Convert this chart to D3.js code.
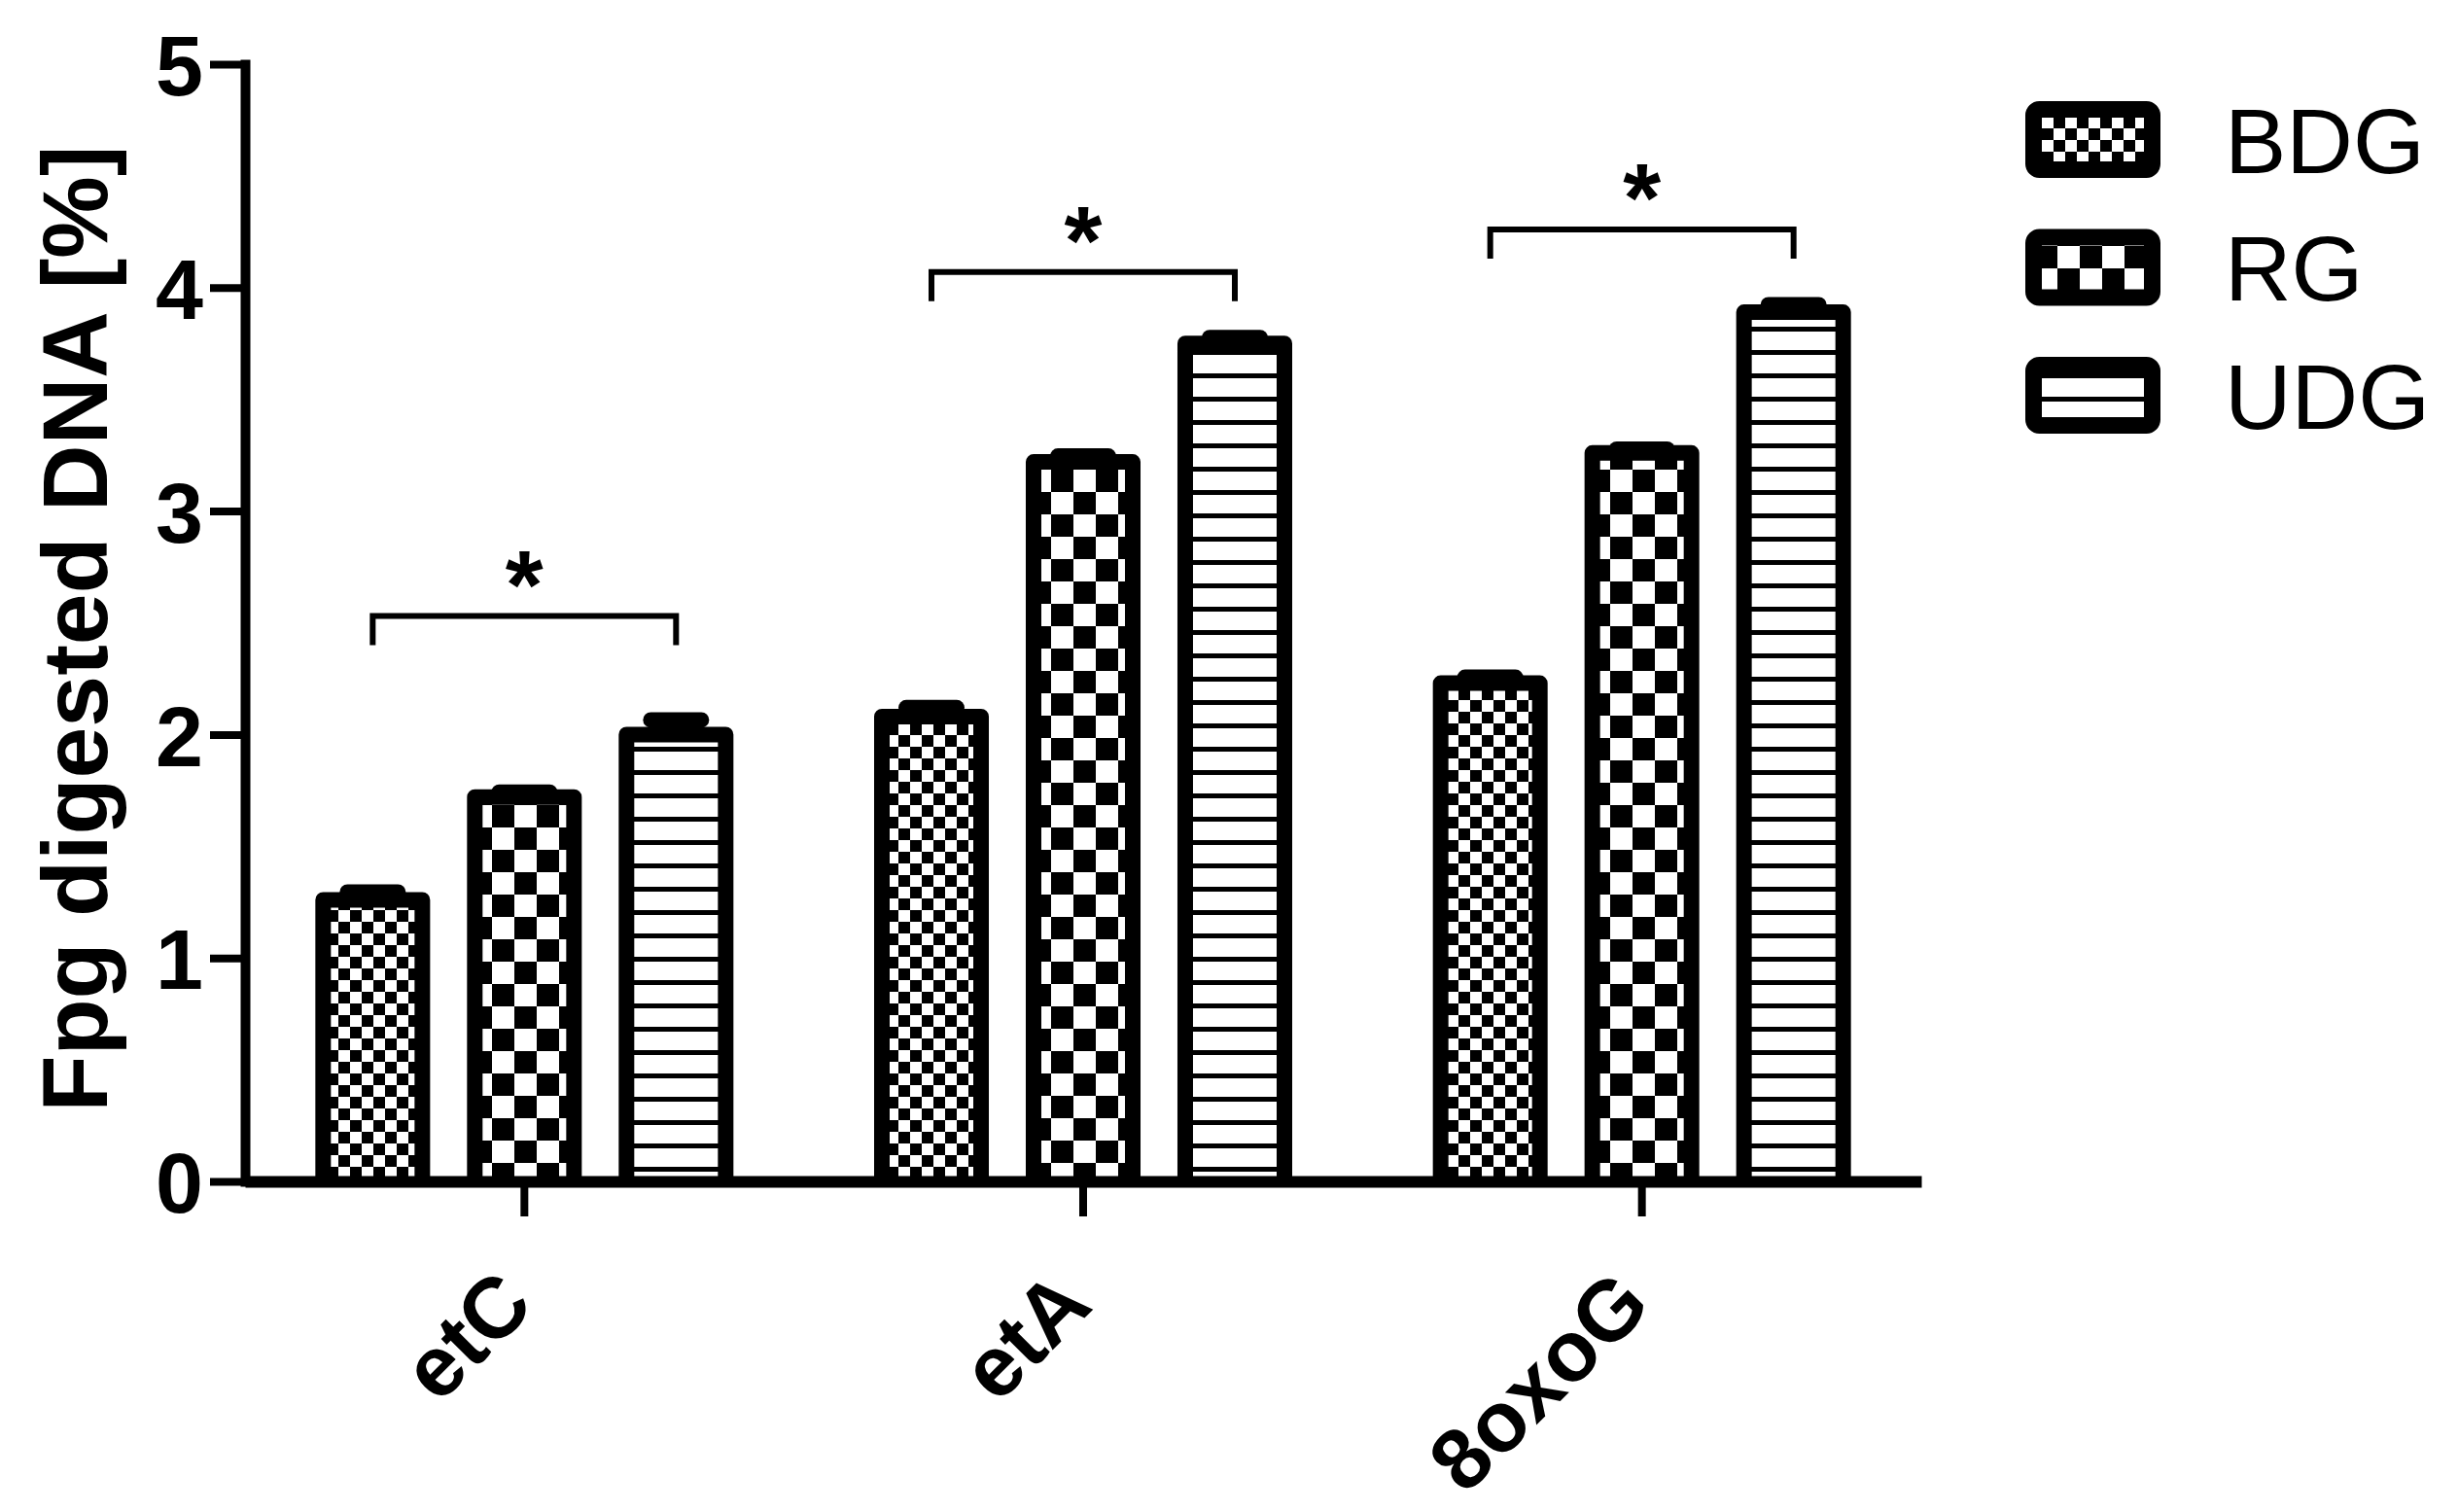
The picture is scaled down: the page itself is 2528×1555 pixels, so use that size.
<!DOCTYPE html>
<html>
<head>
<meta charset="utf-8">
<script src="https://cdn.jsdelivr.net/npm/d3@7/dist/d3.min.js"></script>
<style>
  html, body { margin: 0; padding: 0; background: #fff; }
  svg { display: block; }
  text { font-family: Arial, "Liberation Sans", sans-serif; fill: #000; }
</style>
</head>
<body>
<svg id="chart" width="2528" height="1555"></svg>
<script>
(function () {
  'use strict';

  // categories on the x axis, one series per treatment
  const CATEGORIES = ['etC', 'etA', '8oxoG'];
  const SERIES = ['BDG', 'RG', 'UDG'];

  const BDG_VALUES = [1.26, 2.08, 2.23];
  const RG_VALUES = [1.72, 3.22, 3.26];
  const UDG_VALUES = [2.00, 3.75, 3.89];

  // SEM, read from the cap heights
  const BDG_ERRORS = [0.035, 0.04, 0.026];
  const RG_ERRORS = [0.022, 0.026, 0.017];
  const UDG_ERRORS = [0.065, 0.026, 0.033];

  const Y_TICKS = [0, 1, 2, 3, 4, 5];

  // significance brackets: BDG vs UDG in each category
  const BRACKET_LEVELS = [2.53, 4.07, 4.26];
  const BRACKET_LABELS = ['*', '*', '*'];

  const Y_TITLE = 'Fpg digested DNA [%]';

  const values = [BDG_VALUES, RG_VALUES, UDG_VALUES];
  const errors = [BDG_ERRORS, RG_ERRORS, UDG_ERRORS];
  const patternIds = ['pat-bdg', 'pat-rg', 'pat-udg'];

  const svg = d3.select('#chart');
  svg.append('rect').attr('width', 2528).attr('height', 1555).attr('fill', '#fff');

  const x = d3.scaleBand().domain(CATEGORIES).range([252, 1976]).padding(0);
  const xs = d3.scaleBand().domain(SERIES).range([0, x.bandwidth()])
    .paddingInner(0.346).paddingOuter(0.515);
  const y = d3.scaleLinear().domain([0, 5]).range([1215, 66]);

  buildPatterns();
  drawBars();
  drawAxes();
  drawErrors();
  drawBrackets();
  drawLegend();

  function buildPatterns() {
    const defs = svg.append('defs');

    const bdg = defs.append('pattern').attr('id', 'pat-bdg')
      .attr('patternUnits', 'userSpaceOnUse').attr('width', 24).attr('height', 24);
    bdg.append('rect').attr('width', 24).attr('height', 24).attr('fill', '#fff');
    bdg.append('rect').attr('width', 12).attr('height', 12).attr('fill', '#000');
    bdg.append('rect').attr('x', 12).attr('y', 12).attr('width', 12).attr('height', 12).attr('fill', '#000');

    const rg = defs.append('pattern').attr('id', 'pat-rg')
      .attr('patternUnits', 'userSpaceOnUse').attr('width', 46).attr('height', 46);
    rg.append('rect').attr('width', 46).attr('height', 46).attr('fill', '#fff');
    rg.append('rect').attr('width', 23).attr('height', 23).attr('fill', '#000');
    rg.append('rect').attr('x', 23).attr('y', 23).attr('width', 23).attr('height', 23).attr('fill', '#000');

    const udg = defs.append('pattern').attr('id', 'pat-udg')
      .attr('patternUnits', 'userSpaceOnUse').attr('width', 24).attr('height', 24);
    udg.append('rect').attr('width', 24).attr('height', 24).attr('fill', '#fff');
    udg.append('rect').attr('width', 24).attr('height', 5).attr('fill', '#000');
  }

  function barRows() {
    const rows = [];
    CATEGORIES.forEach((c, ci) => {
      SERIES.forEach((s, si) => {
        rows.push({ cat: c, series: s, si: si, v: values[si][ci], e: errors[si][ci] });
      });
    });
    return rows;
  }

  function drawBars() {
    const w = xs.bandwidth();
    svg.append('g').attr('class', 'bars')
      .selectAll('path')
      .data(barRows())
      .join('path')
      .attr('d', d => {
        const x0 = x(d.cat) + xs(d.series);
        return `M${x0},${y(0)}V${y(d.v)}H${x0 + w}V${y(0)}`;
      })
      .attr('fill', d => `url(#${patternIds[d.si]})`)
      .attr('stroke', '#000')
      .attr('stroke-width', 16)
      .attr('stroke-linejoin', 'round');
  }

  function drawErrors() {
    const w = xs.bandwidth();
    const g = svg.append('g').attr('class', 'errors')
      .attr('stroke', '#000').attr('stroke-width', 16).attr('fill', 'none');
    barRows().forEach(d => {
      const cx = x(d.cat) + xs(d.series) + w / 2;
      g.append('line')
        .attr('x1', cx).attr('x2', cx)
        .attr('y1', y(d.v)).attr('y2', y(d.v + d.e));
      g.append('line')
        .attr('x1', cx - 26).attr('x2', cx + 26)
        .attr('y1', y(d.v + d.e)).attr('y2', y(d.v + d.e))
        .attr('stroke-linecap', 'round');
    });
  }

  function drawAxes() {
    const yAxis = d3.axisLeft(y).tickValues(Y_TICKS).tickSize(36).tickSizeOuter(0)
      .tickPadding(7).tickFormat(d3.format('d'));
    const gy = svg.append('g').attr('transform', `translate(${x.range()[0]},0)`).call(yAxis);
    gy.select('.domain').attr('stroke-width', 10).attr('stroke-linecap', 'square');
    gy.selectAll('.tick line').attr('stroke-width', 8);
    gy.selectAll('.tick text')
      .attr('font-size', 88).attr('font-weight', 'bold')
      .attr('font-family', 'Arial, "Liberation Sans", sans-serif')
      .attr('dy', '0.36em');

    const xAxis = d3.axisBottom(x).tickSize(36).tickSizeOuter(0);
    const gx = svg.append('g').attr('transform', `translate(0,${y(0)})`).call(xAxis);
    gx.select('.domain').attr('stroke-width', 12);
    gx.selectAll('.tick line').attr('stroke-width', 8);
    gx.selectAll('.tick text')
      .attr('font-size', 88).attr('font-weight', 'bold')
      .attr('font-family', 'Arial, "Liberation Sans", sans-serif')
      .attr('text-anchor', 'end')
      .attr('x', 0).attr('y', 0).attr('dy', 0)
      .attr('transform', 'translate(12,130) rotate(-45)');

    svg.append('text')
      .attr('transform', `translate(110,${(y(0) + y(5)) / 2 + 6}) rotate(-90)`)
      .attr('text-anchor', 'middle')
      .attr('font-size', 95)
      .attr('font-weight', 'bold')
      .text(Y_TITLE);
  }

  function drawBrackets() {
    const g = svg.append('g').attr('class', 'brackets');
    const w = xs.bandwidth();
    CATEGORIES.forEach((c, ci) => {
      const x1 = x(c) + xs(SERIES[0]) + w / 2;
      const x2 = x(c) + xs(SERIES[2]) + w / 2;
      const yb = y(BRACKET_LEVELS[ci]);
      g.append('path')
        .attr('d', `M${x1},${yb + 30}V${yb}H${x2}V${yb + 30}`)
        .attr('fill', 'none').attr('stroke', '#000').attr('stroke-width', 6);
      g.append('text')
        .attr('x', (x1 + x2) / 2).attr('y', yb + 2)
        .attr('text-anchor', 'middle')
        .attr('font-size', 100).attr('font-weight', 'bold')
        .text(BRACKET_LABELS[ci]);
    });
  }

  function drawLegend() {
    const g = svg.append('g').attr('class', 'legend');
    const row = d3.scalePoint().domain(SERIES).range([143.5, 406.5]);
    SERIES.forEach((s, si) => {
      const cy = row(s);
      g.append('rect')
        .attr('x', 2091.5).attr('y', cy - 31)
        .attr('width', 122).attr('height', 62)
        .attr('rx', 6)
        .attr('fill', `url(#${patternIds[si]})`)
        .attr('stroke', '#000').attr('stroke-width', 17);
      g.append('text')
        .attr('x', 2288).attr('y', cy)
        .attr('dy', '0.36em')
        .attr('font-size', 95)
        .text(s);
    });
  }
})();
</script>
</body>
</html>
